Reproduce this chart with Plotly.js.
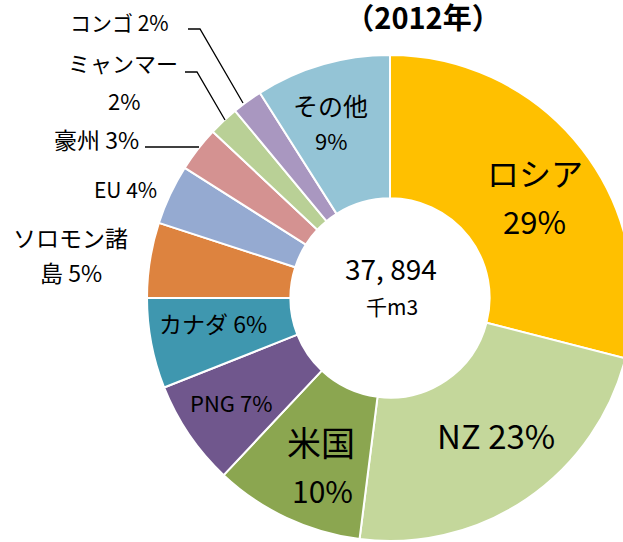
<!DOCTYPE html>
<html><head><meta charset="utf-8">
<script src="https://cdn.plot.ly/plotly-3.0.1.min.js"></script>
<style>html,body{margin:0;padding:0;overflow:hidden;background:#fff;width:623px;height:542px}#c{width:640px;height:542px}</style>
</head><body><div id="c"></div>
<script>
// data
const labels = ['ロシア','NZ','米国','PNG','カナダ','ソロモン諸島','EU','豪州','ミャンマー','コンゴ','その他'];
const shares = [29,23,10,7,6,5,4,3,2,2,9];
const colors = ['#FFC000','#C4D79B','#8BA650','#70578D','#3F97AF','#DD833F','#95AAD1','#D49291','#B9D096','#A997C0','#94C4D6'];
const totalText = '37, 894';
const unitText = '千m3';
const yearText = '（2012年）';

const W = 640, H = 542;
const px = x => x / W, py = y => 1 - y / H;
const FONT = '"Noto Sans CJK JP", "Noto Sans", sans-serif';

const trace = {
  type: 'pie',
  labels: labels,
  values: shares,
  textinfo: 'none',
  sort: false,
  direction: 'clockwise',
  rotation: 0,
  hole: 0.41,
  marker: {colors: colors, line: {color: '#ffffff', width: 2}},
  showlegend: false,
  hoverinfo: 'none',
  domain: {x: [px(147), px(633)], y: [py(541), py(55)]}
};

const ann = [];
function addText(t, x, y, size, anchor) {
  ann.push({text: t, x: px(x), y: py(y), xref: 'paper', yref: 'paper', showarrow: false,
    xanchor: anchor || 'center', yanchor: 'middle', font: {family: FONT, size: size, color: '#000'}});
}
const idx = n => labels.indexOf(n);
const pct = n => shares[idx(n)] + '%';

// inside labels
addText('ロシア', 535, 172, 32);
addText(pct('ロシア'), 534, 220, 31);
addText('NZ ' + pct('NZ'), 496, 435, 33);
addText('米国', 321, 442, 34);
addText(pct('米国'), 322, 490, 30);
addText('PNG ' + pct('PNG'), 231, 402, 22);
addText('カナダ ' + pct('カナダ'), 213, 323, 23);
addText('その他', 330, 105, 25);
addText(pct('その他'), 331, 140, 22);

// outside labels
addText('コンゴ ' + pct('コンゴ'), 171, 22, 21, 'right');
addText('ミャンマー', 123, 62, 22);
addText(pct('ミャンマー'), 124, 100, 22);
addText('豪州 ' + pct('豪州'), 141, 139, 23, 'right');
addText('EU ' + pct('EU'), 159, 189, 21, 'right');
addText(labels[idx('ソロモン諸島')].slice(0, 5), 70, 237, 23);
addText(labels[idx('ソロモン諸島')].slice(5) + ' ' + pct('ソロモン諸島'), 71, 272, 23);

// center
addText(totalText, 391, 268, 28);
addText(unitText, 392, 306, 21);

const shapes = [
  [[188,29],[200,29],[243,103]],
  [[185,72],[197,72],[225,120]],
  [[145,147],[199,147]]
].map(pts => ({
  type: 'path', xref: 'paper', yref: 'paper',
  path: 'M' + pts.map(p => px(p[0]) + ',' + py(p[1])).join(' L'),
  line: {color: '#000', width: 1.3}
}));

const layout = {
  width: W, height: H,
  margin: {l: 0, r: 0, t: 0, b: 0},
  paper_bgcolor: '#fff',
  title: {text: '<b>' + yearText + '</b>', x: px(423), xanchor: 'center', y: py(19), yanchor: 'middle',
          xref: 'paper', yref: 'container', font: {family: FONT, size: 29, color: '#000'}},
  annotations: ann,
  shapes: shapes
};
Plotly.newPlot('c', [trace], layout, {staticPlot: true});
</script></body></html>
